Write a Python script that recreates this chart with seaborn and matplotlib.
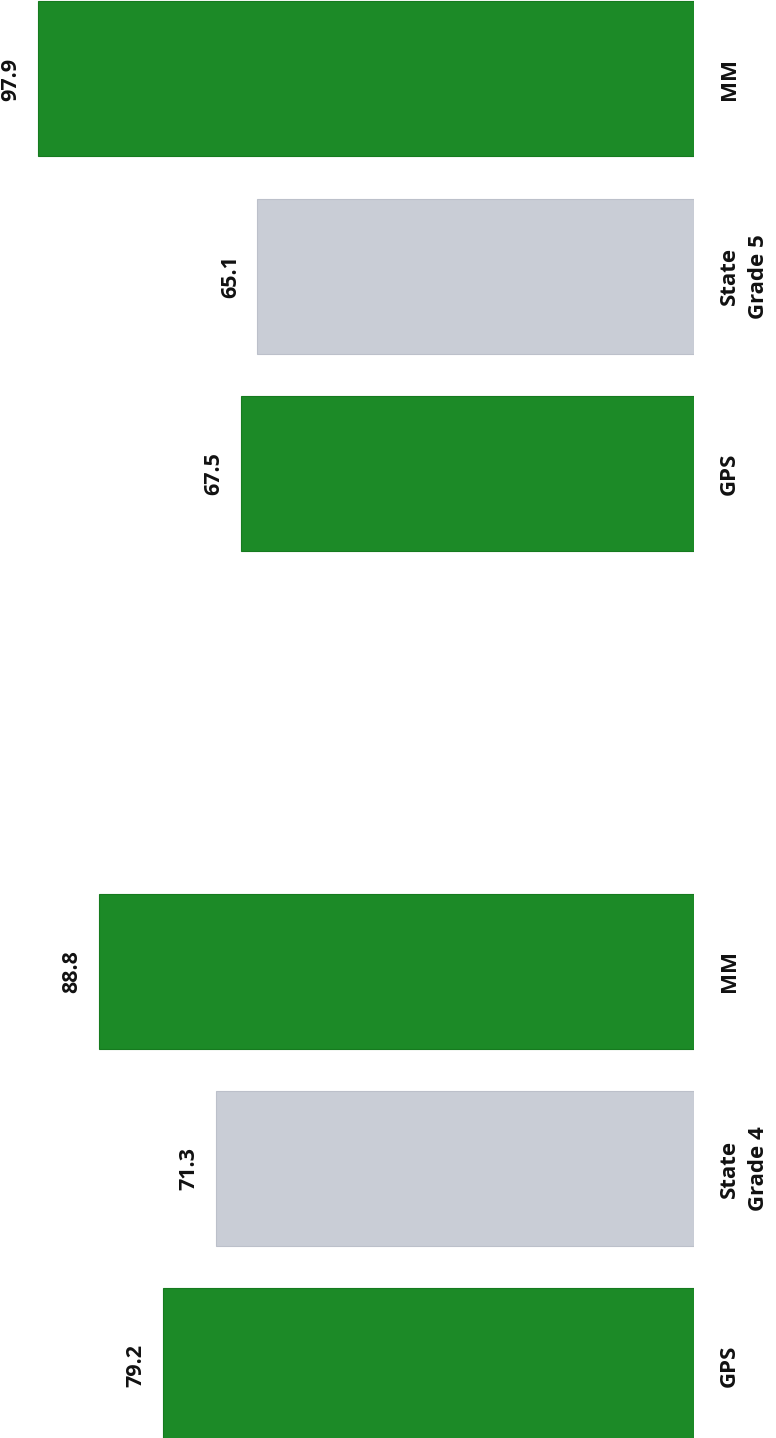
import matplotlib
matplotlib.use("Agg")
import matplotlib.pyplot as plt
import seaborn as sns
import pandas as pd

# ---- data (original chart order, left to right before rotation) ----
categories = ["GPS", "State", "MM"]
grade4_values = [79.2, 71.3, 88.8]
grade5_values = [67.5, 65.1, 97.9]
grade4_labels = ["GPS", "State\nGrade 4", "MM"]
grade5_labels = ["GPS", "State\nGrade 5", "MM"]

# ---- layout ----
GROUP_GAP = 1.52
GREEN = "#1c8a27"
GRAY = "#c9cdd6"

rows = []
for gi, (vals, labs) in enumerate([(grade4_values, grade4_labels), (grade5_values, grade5_labels)]):
    for ci, (cat, v, lab) in enumerate(zip(categories, vals, labs)):
        rows.append({"pos": gi * (len(categories) + GROUP_GAP) + ci,
                     "value": v, "kind": cat, "label": lab})
df = pd.DataFrame(rows)

sns.set_theme(style="white")
plt.rcParams["font.family"] = ["Open Sans", "DejaVu Sans"]

fig = plt.figure(figsize=(7.76, 14.38), dpi=100)
ax = fig.add_axes([0, 0, 694 / 776, 1])

palette = {"GPS": GREEN, "State": GRAY, "MM": GREEN}
sns.barplot(data=df, x="value", y="pos", hue="kind", palette=palette,
            orient="h", native_scale=True, dodge=False, width=0.785,
            legend=False, saturation=1, ax=ax, linewidth=0.8)

for patch in ax.patches:
    fc = patch.get_facecolor()
    if fc[0] < 0.5:
        patch.set_edgecolor("#167a1f")
    else:
        patch.set_edgecolor("#bcc0ca")

ax.set_xlim(103.5, 0)
ax.set_ylim(-0.365, 6.92)

for _, r in df.iterrows():
    ax.annotate(f"{r['value']:.1f}", xy=(r["value"], r["pos"]),
                xytext=(-12, 0), textcoords="offset points",
                rotation=90, ha="right", va="center",
                fontsize=15.5, fontweight="bold", color="#111111")
    ax.annotate(r["label"], xy=(1, r["pos"]), xycoords=("axes fraction", "data"),
                xytext=(18, 0), textcoords="offset points",
                rotation=90, ha="left", va="center", multialignment="center",
                fontsize=16, fontweight="bold", color="#111111",
                linespacing=1.5, annotation_clip=False)

ax.set_axis_off()
fig.savefig("out.png", dpi=100)
